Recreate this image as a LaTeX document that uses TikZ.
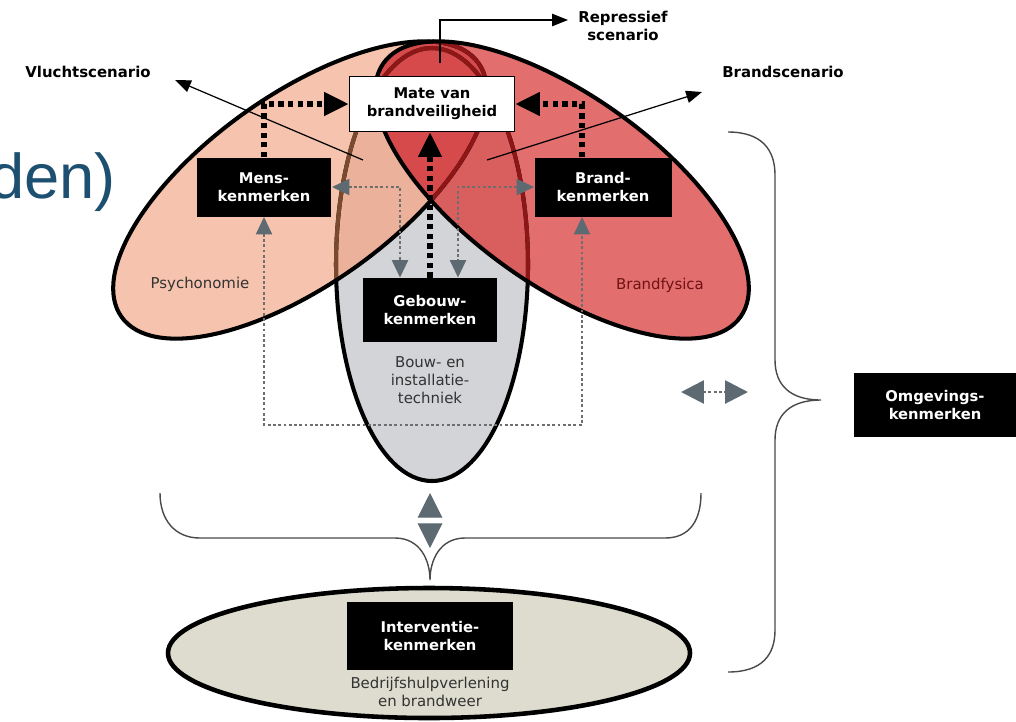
\documentclass[tikz,border=0pt]{standalone}
\usepackage{fontspec}
\setmainfont{DejaVu Sans}
\newfontfamily\titlefont{Liberation Sans}
\usetikzlibrary{arrows.meta}
\definecolor{mensfill}{HTML}{F5C3AE}
\definecolor{brandfill}{HTML}{E26E6E}
\definecolor{gebouwfill}{HTML}{D3D4D8}
\definecolor{mensmix}{HTML}{ECB19B}
\definecolor{brandmix}{HTML}{D95F5F}
\definecolor{lensfill}{HTML}{D74A4C}
\definecolor{intfill}{HTML}{DDDCCE}
\definecolor{brownline}{HTML}{7A4A2E}
\definecolor{redline}{HTML}{8E1616}
\definecolor{arrowgrey}{HTML}{5E6A72}
\definecolor{dotgrey}{HTML}{6E6E6E}
\definecolor{titleblue}{HTML}{1D4F70}
\definecolor{bracegrey}{HTML}{4A4A4A}
\newcommand\menspath{(300,190) ellipse [x radius=219, y radius=95]}
\newcommand\brandpath{(562,190) ellipse [x radius=219, y radius=95]}
\newcommand\gebouwpath{(432,264.5) ellipse [x radius=96, y radius=216.5]}
\newcommand\boxfont{\fontsize{8.4}{10.4}\selectfont\bfseries}
\newcommand\labelfont{\fontsize{8.5}{10.4}\selectfont}

\begin{document}
\begin{tikzpicture}[x=0.02cm,y=-0.02cm]
  \tikzstyle{mensrot}=[rotate around={35.4:(300,190)}]
  \tikzstyle{brandrot}=[rotate around={-35.4:(562,190)}]
  \tikzstyle{outline}=[line width=2.3pt]
  \tikzstyle{blackbox}=[fill=black,text=white,font=\boxfont,align=center,inner sep=0pt]
  \tikzstyle{whitebox}=[draw,fill=white,line width=1pt,font=\boxfont,align=center,inner sep=0pt,
       minimum width=3.3cm,minimum height=1.1cm]
  \tikzstyle{scenlabel}=[font=\labelfont\bfseries,align=center,inner sep=0pt]
  \tikzstyle{textlabel}=[font=\labelfont,text=black!80,align=center,inner sep=0pt]
  \tikzstyle{thinarrow}=[line width=0.7pt,-{Triangle[length=9pt,width=7pt]}]
  \tikzstyle{bigdots}=[line width=3pt,dash pattern=on 3pt off 2.5pt,-{Triangle[length=14pt,width=13pt]}]
  \tikzstyle{greydots}=[dotgrey,line width=1.6pt,dash pattern=on 1.6pt off 1.4pt,
       {Triangle[length=10pt,width=9pt,color=arrowgrey]}-{Triangle[length=10pt,width=9pt,color=arrowgrey]}]
  \tikzstyle{brace}=[bracegrey,line width=0.8pt]
  \useasboundingbox (0,0) rectangle (1016,721);

  % the three fields
  \fill[gebouwfill] \gebouwpath;
  \fill[mensfill,mensrot] \menspath;
  \fill[brandfill,brandrot] \brandpath;
  \begin{scope}
    \clip \gebouwpath;
    \fill[mensmix,mensrot] \menspath;
    \fill[brandmix,brandrot] \brandpath;
  \end{scope}
  \begin{scope}
    \clip[mensrot] \menspath;
    \fill[lensfill,brandrot] \brandpath;
  \end{scope}
  \draw[outline] \gebouwpath;
  \begin{scope}
    \clip[mensrot] \menspath;
    \draw[outline,brownline] \gebouwpath;
  \end{scope}
  \begin{scope}
    \clip[brandrot] \brandpath;
    \draw[outline,redline] \gebouwpath;
  \end{scope}
  \draw[outline,mensrot] \menspath;
  \begin{scope}
    \clip[brandrot] \brandpath;
    \draw[outline,redline,mensrot] \menspath;
  \end{scope}
  \draw[outline,brandrot] \brandpath;
  \draw[line width=2.6pt,fill=intfill] (429,653) ellipse [x radius=261, y radius=65];

  \node[anchor=base east,inner sep=0pt,text=titleblue,font=\titlefont\fontsize{36}{40}\selectfont] (titel) at (116,198) {den)};

  \node[whitebox] (mate) at (432,104) {Mate van\\brandveiligheid};
  \node[blackbox,minimum width=2.7cm,minimum height=1.18cm] (mens) at (264,187) {Mens-\\kenmerken};
  \node[blackbox,minimum width=2.74cm,minimum height=1.18cm] (brand) at (603,187) {Brand-\\kenmerken};
  \node[blackbox,minimum width=2.7cm,minimum height=1.28cm] (gebouw) at (430,310) {Gebouw-\\kenmerken};
  \node[blackbox,minimum width=3.32cm,minimum height=1.36cm] (interventie) at (430,636) {Interventie-\\kenmerken};
  \node[blackbox,minimum width=3.26cm,minimum height=1.28cm] (omgeving) at (935,405) {Omgevings-\\kenmerken};

  \node[scenlabel] (vlucht) at (88,72) {Vluchtscenario};
  \node[scenlabel] (brandsc) at (783,72) {Brandscenario};
  \node[scenlabel] (repressief) at (623,26) {Repressief\\scenario};
  \node[textlabel] (psycho) at (200,284) {Psychonomie};
  \node[textlabel,text=redline!80!black] (fysica) at (660,285) {Brandfysica};
  \node[textlabel] (bouw) at (430,380) {Bouw- en\\installatie-\\techniek};
  \node[textlabel] (bhv) at (430,692) {Bedrijfshulpverlening\\en brandweer};

  \coordinate (vluchtstart) at (363,160);
  \coordinate (vluchttip) at (175,80);
  \coordinate (brandstart) at (487,160);
  \coordinate (brandtip) at (702,92);
  \coordinate (represstart) at (440,63);
  \coordinate (represtip) at (568,20);
  \coordinate (loopbottom) at (0,425);
  \coordinate (vtop) at (430,493);
  \coordinate (vbot) at (430,548);
  \coordinate (hleft) at (681,392);
  \coordinate (hright) at (748,392);

  \draw[thinarrow] (vluchtstart) -- (vluchttip);
  \draw[thinarrow] (brandstart) -- (brandtip);
  \draw[thinarrow] (represstart) |- (represtip);

  \draw[bigdots] (mens.north) |- (mate.west);
  \draw[bigdots] ([xshift=-0.42cm]brand.north) |- (mate.east);
  \draw[bigdots] (gebouw.north) -- (gebouw.north |- mate.south);

  \draw[greydots] (mens.east) -| ([xshift=-0.6cm]gebouw.north);
  \draw[greydots] (brand.west) -| ([xshift=0.56cm]gebouw.north);
  \draw[greydots] (mens.south) -- (mens.south |- loopbottom) -| ([xshift=-0.42cm]brand.south);
  \draw[greydots,{Triangle[length=13pt,width=13pt,color=arrowgrey]}-{Triangle[length=13pt,width=13pt,color=arrowgrey]}] (hleft) -- (hright);
  \draw[white,line width=0.6pt,{Triangle[length=14pt,width=14pt,color=arrowgrey]}-{Triangle[length=14pt,width=14pt,color=arrowgrey]}] (vtop) -- (vbot);

  % braces
  \draw[brace] (728,132) .. controls (762,132) and (775,150) .. (775,175) -- (775,360)
     .. controls (775,385) and (790,400) .. (821,400)
     .. controls (790,400) and (775,415) .. (775,440) -- (775,630)
     .. controls (775,655) and (762,672) .. (728,672);
  \draw[brace] (160,493) .. controls (160,520) and (175,538) .. (200,538) -- (395,538)
     .. controls (420,538) and (430,560) .. (430,580)
     .. controls (430,560) and (440,538) .. (465,538) -- (665,538)
     .. controls (690,538) and (701,520) .. (701,493);
\end{tikzpicture}
\end{document}
